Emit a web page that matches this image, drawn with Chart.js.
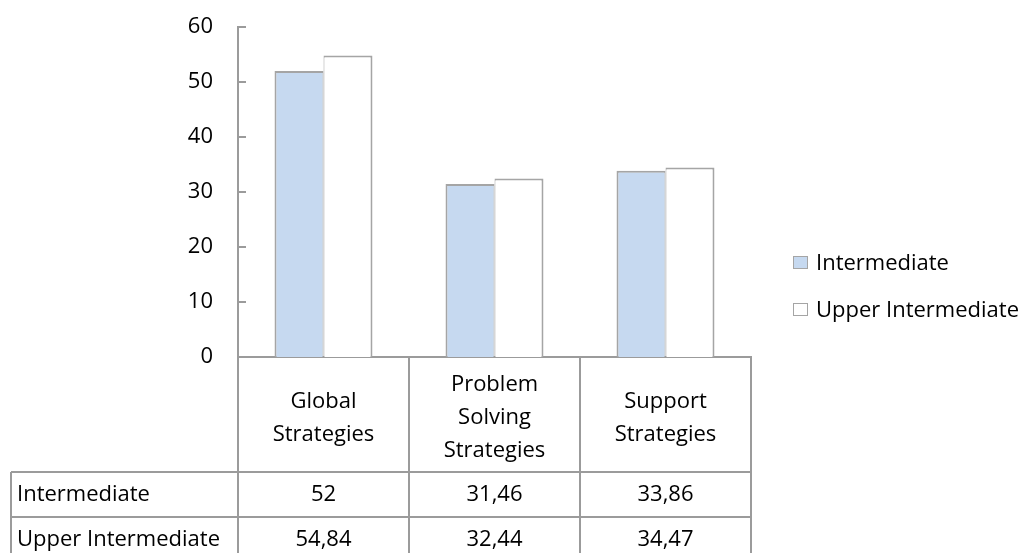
<!DOCTYPE html>
<html>
<head>
<meta charset="utf-8">
<script src="https://cdn.jsdelivr.net/npm/chart.js@4/dist/chart.umd.min.js"></script>
<style>
  html, body { margin: 0; padding: 0; background: #ffffff; }
  #wrap { width: 1032px; height: 553px; position: relative; }
</style>
</head>
<body>
<div id="wrap"><canvas id="chart"></canvas></div>
<script>
// Strategy categories (multi-line header labels)
const categories = [
  ["Global", "Strategies"],
  ["Problem", "Solving", "Strategies"],
  ["Support", "Strategies"]
];
const seriesNames = ["Intermediate", "Upper Intermediate"];
const intermediate = [52, 31.46, 33.86];
const upperIntermediate = [54.84, 32.44, 34.47];
const yMin = 0, yMax = 60, yStep = 10;

const FONT_FAMILY = "'Open Sans', sans-serif";
const FONT_SIZE = 22;
const LINE_GREY = '#9b9b9b';
const BAR_BORDER = '#a5a5a5';
const BLUE = '#c6d9f0';
const WHITE = '#ffffff';
const TEXT = '#000000';

const HEADER_H = 115;   // category header row of the data table
const ROW_H = 45;       // series rows of the data table
const TABLE_LEFT = 11;

function fmt(v) { return String(v).replace('.', ','); }

// Small tick marks on the inside of the value axis
const innerTicks = {
  id: 'innerTicks',
  afterDatasetsDraw(chart) {
    const y = chart.scales.y, ctx = chart.ctx, left = chart.chartArea.left;
    ctx.save();
    ctx.strokeStyle = LINE_GREY;
    ctx.lineWidth = 2;
    y.ticks.forEach(t => {
      const py = Math.round(y.getPixelForValue(t.value));
      ctx.beginPath();
      ctx.moveTo(left, py);
      ctx.lineTo(left + 8, py);
      ctx.stroke();
    });
    ctx.restore();
  }
};

// Data table under the plot: grid lines, series names and values
const dataTable = {
  id: 'dataTable',
  afterDraw(chart) {
    const ctx = chart.ctx, x = chart.scales.x, area = chart.chartArea;
    const n = chart.data.labels.length;
    const half = (x.getPixelForValue(1) - x.getPixelForValue(0)) / 2;
    const bounds = [];
    for (let i = 0; i < n; i++) bounds.push(x.getPixelForValue(i) - half);
    bounds.push(x.getPixelForValue(n - 1) + half);
    const top = area.bottom;
    const rowTop = top + HEADER_H;
    const bottom = chart.height + 20;

    ctx.save();
    ctx.strokeStyle = LINE_GREY;
    ctx.lineWidth = 2;
    ctx.beginPath();
    bounds.forEach(bx => { ctx.moveTo(Math.round(bx), top); ctx.lineTo(Math.round(bx), bottom); });
    ctx.moveTo(TABLE_LEFT, rowTop); ctx.lineTo(TABLE_LEFT, bottom);
    for (let r = 0; r <= chart.data.datasets.length; r++) {
      const ry = rowTop + r * ROW_H;
      ctx.moveTo(TABLE_LEFT, ry); ctx.lineTo(bounds[n], ry);
    }
    ctx.stroke();

    ctx.fillStyle = TEXT;
    ctx.font = FONT_SIZE + 'px ' + FONT_FAMILY;
    ctx.textBaseline = 'middle';
    chart.data.datasets.forEach((ds, r) => {
      const cy = rowTop + r * ROW_H + ROW_H / 2;
      ctx.textAlign = 'left';
      ctx.fillText(ds.label, TABLE_LEFT + 6, cy);
      ctx.textAlign = 'center';
      ds.data.forEach((v, i) => ctx.fillText(fmt(v), x.getPixelForValue(i), cy));
    });
    ctx.restore();
  }
};

// Legend to the right of the plot
const sideLegend = {
  id: 'sideLegend',
  afterDraw(chart) {
    const ctx = chart.ctx, area = chart.chartArea;
    const bx = area.right + 42, gap = 47, bw = 15, bh = 13;
    const dsets = chart.data.datasets;
    const y0 = 262.5;
    ctx.save();
    ctx.font = FONT_SIZE + 'px ' + FONT_FAMILY;
    ctx.textBaseline = 'middle';
    ctx.textAlign = 'left';
    dsets.forEach((ds, i) => {
      const cy = y0 + i * gap;
      ctx.fillStyle = ds.backgroundColor;
      ctx.fillRect(bx, cy - bh / 2, bw, bh);
      ctx.strokeStyle = BAR_BORDER;
      ctx.lineWidth = 1;
      ctx.strokeRect(bx + 0.5, cy - bh / 2 + 0.5, bw - 1, bh - 1);
      ctx.fillStyle = TEXT;
      ctx.fillText(ds.label, bx + bw + 8, cy + 1);
    });
    ctx.restore();
  }
};

new Chart(document.getElementById('chart'), {
  type: 'bar',
  data: {
    labels: categories,
    datasets: [
      {
        label: seriesNames[0],
        data: intermediate,
        backgroundColor: BLUE,
        borderColor: BAR_BORDER,
        borderWidth: { top: 2, left: 2, right: 1, bottom: 0 },
        borderSkipped: 'start'
      },
      {
        label: seriesNames[1],
        data: upperIntermediate,
        backgroundColor: WHITE,
        borderColor: BAR_BORDER,
        borderWidth: { top: 2, left: 1, right: 2, bottom: 0 },
        borderSkipped: 'start'
      }
    ]
  },
  options: {
    responsive: true,
    maintainAspectRatio: false,
    animation: false,
    layout: { padding: { top: 27, left: 10, right: 281, bottom: ROW_H * 2 - 9 } },
    datasets: { bar: { categoryPercentage: 0.573, barPercentage: 1.0 } },
    plugins: {
      legend: { display: false },
      tooltip: { enabled: false },
      title: { display: false }
    },
    scales: {
      x: {
        grid: { display: false, drawTicks: false },
        border: { display: true, color: LINE_GREY, width: 2 },
        ticks: {
          color: TEXT,
          font: { family: FONT_FAMILY, size: FONT_SIZE, lineHeight: 33 / FONT_SIZE },
          padding: 28,
          crossAlign: 'center',
          maxRotation: 0,
          autoSkip: false
        },
        afterFit(scale) { scale.height = HEADER_H; }
      },
      y: {
        min: yMin,
        max: yMax,
        grid: { display: false, drawTicks: false },
        border: { display: true, color: LINE_GREY, width: 2 },
        ticks: {
          stepSize: yStep,
          color: TEXT,
          font: { family: FONT_FAMILY, size: FONT_SIZE },
          padding: 25
        },
        afterFit(scale) {
          scale.width = 228;
          // plot extent is set by the layout padding alone
          scale.paddingTop = 0;
          scale.paddingBottom = 0;
        }
      }
    }
  },
  plugins: [innerTicks, dataTable, sideLegend]
});
</script>
</body>
</html>
